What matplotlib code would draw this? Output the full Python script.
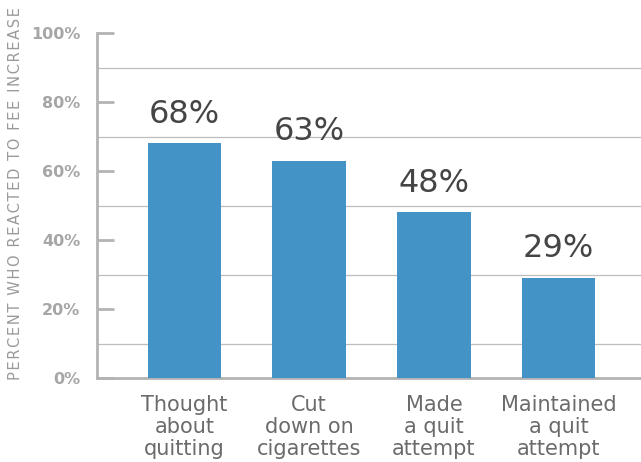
import matplotlib.pyplot as plt
import numpy as np

# --- DATA ---
categories = ["Thought\nabout\nquitting", "Cut\ndown on\ncigarettes",
              "Made\na quit\nattempt", "Maintained\na quit\nattempt"]
values = [68, 63, 48, 29]
y_ticks = [0, 20, 40, 60, 80, 100]
y_tick_labels = ["0%", "20%", "40%", "60%", "80%", "100%"]
grid_levels = [10, 30, 50, 70, 90]
y_title = "PERCENT WHO REACTED TO FEE INCREASE"

BAR_COLOR = "#4493c6"
AXIS_GRAY = "#b3b3b3"

fig = plt.figure(figsize=(6.41, 4.62), dpi=100)
ax = fig.add_axes([97 / 641, 84 / 462, 544 / 641, 345 / 462])

x = np.arange(len(categories))
ax.bar(x, values, width=0.59, color=BAR_COLOR, zorder=3)

# value labels above bars
for xi, v in zip(x, values):
    ax.text(xi, v + 4, f"{v}%", ha="center", va="bottom",
            fontsize=23, color="#454545")

# light grid lines between major ticks
for g in grid_levels:
    ax.axhline(g, color="#bdbdbd", lw=0.9, zorder=1)

ax.set_xlim(-0.70, 3.66)
ax.set_ylim(0, 100)
ax.set_yticks(y_ticks)
ax.set_yticklabels(y_tick_labels, fontsize=11.5, fontweight="bold", color="#a6a6a6")
ax.tick_params(axis="y", direction="in", length=12, width=2, color=AXIS_GRAY, pad=12)
ax.set_xticks(x)
ax.set_xticklabels(categories, fontsize=15, color="#6b6b6b", linespacing=1.15)
ax.tick_params(axis="x", length=0, pad=12)

for side in ["top", "right"]:
    ax.spines[side].set_visible(False)
for side in ["left", "bottom"]:
    ax.spines[side].set_color(AXIS_GRAY)
    ax.spines[side].set_linewidth(2)

# spaced-out axis title
spaced = "\u200a".join(y_title)
fig.text(16 / 641, (462 - 194) / 462, spaced,
         rotation=90, ha="center", va="center", fontsize=10.6, color="#9a9a9a")

fig.savefig("out.png", dpi=100)
